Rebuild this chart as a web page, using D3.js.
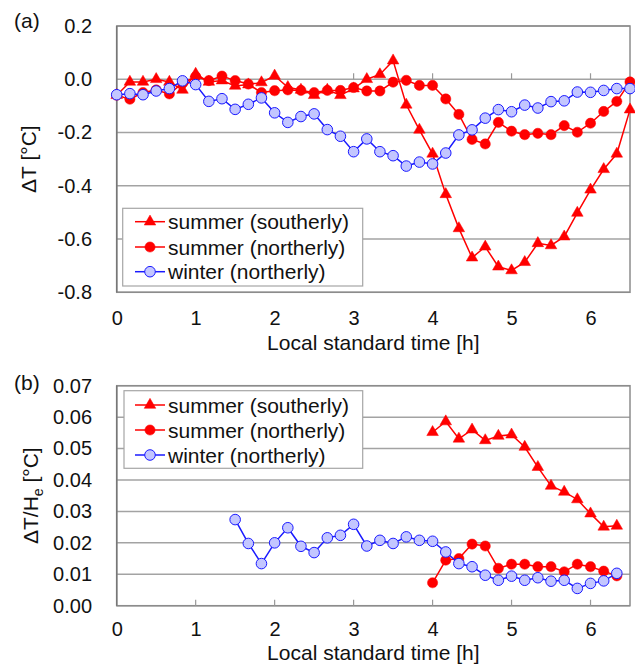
<!DOCTYPE html>
<html><head><meta charset="utf-8">
<script src="https://cdn.jsdelivr.net/npm/d3@7"></script>
<style>
html,body{margin:0;padding:0;background:#fff;}
svg text{font-family:"Liberation Sans",Arial,sans-serif;fill:#111;}
</style></head>
<body>
<svg id="chart" width="635" height="666"></svg>
<script>
// ---- data ----
const times = [0, 0.167, 0.333, 0.5, 0.667, 0.833, 1, 1.167, 1.333, 1.5, 1.667, 1.833, 2, 2.167, 2.333, 2.5, 2.667, 2.833, 3, 3.167,
  3.333, 3.5, 3.667, 3.833, 4, 4.167, 4.333, 4.5, 4.667, 4.833, 5, 5.167, 5.333, 5.5, 5.667, 5.833, 6, 6.167, 6.333, 6.5];

const seriesNames = ["summer (southerly)", "summer (northerly)", "winter (northerly)"];

// Panel (a): ΔT [°C]
const aSoutherly = [-0.06, -0.01, -0.01, 0.0, -0.01, -0.04, 0.02, -0.01, -0.005, -0.025, -0.02, -0.012, 0.013, -0.03, -0.04, -0.06, -0.04, -0.06, -0.035, 0.0,
  0.018, 0.07, -0.096, -0.19, -0.28, -0.432, -0.56, -0.67, -0.629, -0.704, -0.718, -0.687, -0.616, -0.624, -0.591, -0.502, -0.415, -0.338, -0.28, -0.114];
const aNortherly = [-0.06, -0.075, -0.05, -0.04, -0.055, -0.015, 0.01, -0.005, 0.012, -0.005, -0.018, -0.05, -0.043, -0.04, -0.042, -0.05, -0.042, -0.042, -0.031, -0.044,
  -0.044, -0.011, -0.004, -0.023, -0.023, -0.074, -0.132, -0.226, -0.243, -0.162, -0.195, -0.208, -0.203, -0.208, -0.174, -0.199, -0.165, -0.121, -0.083, -0.01];
const aWinter = [-0.058, -0.054, -0.058, -0.044, -0.035, -0.006, -0.02, -0.083, -0.073, -0.113, -0.094, -0.07, -0.126, -0.162, -0.14, -0.13, -0.189, -0.214, -0.272, -0.224,
  -0.272, -0.287, -0.326, -0.311, -0.318, -0.277, -0.209, -0.19, -0.146, -0.114, -0.122, -0.097, -0.108, -0.084, -0.081, -0.048, -0.049, -0.042, -0.035, -0.035];

// Panel (b): ΔT/He [°C]
const bSummerTimes = [4, 4.167, 4.333, 4.5, 4.667, 4.833, 5, 5.167, 5.333, 5.5, 5.667, 5.833, 6, 6.167, 6.333];
const bSoutherly = [0.0552, 0.0586, 0.0531, 0.056, 0.0526, 0.054, 0.0544, 0.0505, 0.0441, 0.0381, 0.0362, 0.0338, 0.0293, 0.0251, 0.0254];
const bNortherly = [0.0073, 0.0145, 0.015, 0.0196, 0.019, 0.0119, 0.0132, 0.0132, 0.0124, 0.0124, 0.0108, 0.0132, 0.0124, 0.011, 0.0095];
const bWinterTimes = [1.5, 1.667, 1.833, 2, 2.167, 2.333, 2.5, 2.667, 2.833, 3, 3.167, 3.333, 3.5, 3.667, 3.833, 4, 4.167, 4.333, 4.5, 4.667,
  4.833, 5, 5.167, 5.333, 5.5, 5.667, 5.833, 6, 6.167, 6.333];
const bWinter = [0.0274, 0.0198, 0.0134, 0.02, 0.0248, 0.0189, 0.0169, 0.0216, 0.0224, 0.0259, 0.019, 0.0208, 0.0198, 0.0219, 0.0208, 0.0205, 0.0171, 0.0134, 0.0124, 0.0097,
  0.0081, 0.0094, 0.0081, 0.0089, 0.0078, 0.0081, 0.0055, 0.0071, 0.0079, 0.0103];

const xTicks = [0, 1, 2, 3, 4, 5, 6];
const aYTicks = [0.2, 0.0, -0.2, -0.4, -0.6, -0.8];
const bYTicks = [0.07, 0.06, 0.05, 0.04, 0.03, 0.02, 0.01, 0.00];

// ---- drawing ----
const svg = d3.select("#chart");
const RED = "#ff0000", BLUE = "#1a1aff", LAV = "#c3c6ff";
const styles = [
  {stroke: RED, fill: RED, sym: d3.symbolTriangle, size: 58},
  {stroke: RED, fill: RED, sym: d3.symbolCircle, size: 82},
  {stroke: BLUE, fill: LAV, sym: d3.symbolCircle, size: 88}
];

const x = d3.scaleLinear().domain([0, 6.5]).range([116.7, 630]);

function panel(cfg) {
  const y = d3.scaleLinear().domain(cfg.yDomain).range([cfg.bottom, cfg.top]);
  const g = svg.append("g");

  // gridlines
  g.selectAll(".grid").data(cfg.yTicks).join("line")
    .attr("x1", x(0)).attr("x2", x(6.5))
    .attr("y1", d => y(d)).attr("y2", d => y(d))
    .attr("stroke", "#a3a3a3").attr("stroke-width", 1.5);

  // frame
  g.append("rect").attr("x", x(0)).attr("y", cfg.top)
    .attr("width", x(6.5) - x(0)).attr("height", cfg.bottom - cfg.top)
    .attr("fill", "none").attr("stroke", "#8c8c8c").attr("stroke-width", 1.5);
  g.append("line").attr("x1", x(0)).attr("x2", x(0)).attr("y1", cfg.top).attr("y2", cfg.bottom)
    .attr("stroke", "#777").attr("stroke-width", 1.5);

  // x tick marks (pointing up from the crossing line)
  const yCross = y(cfg.xCross);
  g.selectAll(".xt").data(xTicks.slice(1)).join("line")
    .attr("x1", d => x(d)).attr("x2", d => x(d))
    .attr("y1", yCross).attr("y2", yCross - 6)
    .attr("stroke", "#999").attr("stroke-width", 1.2);

  // y axis labels
  const yAxis = d3.axisLeft(y).tickValues(cfg.yTicks).tickFormat(d3.format(cfg.yFmt)).tickSize(0).tickPadding(24.7);
  const ya = g.append("g").attr("transform", `translate(${x(0)},0)`).call(yAxis);
  ya.select(".domain").remove();
  ya.selectAll("text").attr("font-size", 20).attr("fill", "#111")
    .attr("font-family", "Liberation Sans, Arial, sans-serif").text(d => d3.format(cfg.yFmt)(d).replace("−", "-"));

  // x axis labels
  const xAxis = d3.axisBottom(x).tickValues(xTicks).tickFormat(d3.format("d")).tickSize(0).tickPadding(cfg.xPad);
  const xa = g.append("g").attr("transform", `translate(0,${cfg.bottom})`).call(xAxis);
  xa.select(".domain").remove();
  xa.selectAll("text").attr("font-size", 20).attr("fill", "#111")
    .attr("font-family", "Liberation Sans, Arial, sans-serif");

  // x title
  g.append("text").attr("x", (x(0) + x(6.5)) / 2).attr("y", cfg.xTitleY)
    .attr("text-anchor", "middle").attr("font-size", 21).text("Local standard time [h]");

  // y title
  const yt = g.append("text").attr("transform", `translate(${cfg.yTitleX},${(cfg.top + cfg.bottom) / 2}) rotate(-90)`)
    .attr("text-anchor", "middle").attr("font-size", 21);
  cfg.yTitle(yt);

  // panel letter
  g.append("text").attr("x", 14).attr("y", cfg.letterY).attr("font-size", 21).text(cfg.letter);

  // series
  const line = d3.line().x(d => x(d[0])).y(d => y(d[1]));
  cfg.series.forEach((s, i) => {
    const st = styles[i];
    const pts = s.t.map((t, k) => [t, s.v[k]]);
    g.append("path").datum(pts).attr("d", line).attr("fill", "none")
      .attr("stroke", st.stroke).attr("stroke-width", 1.5);
    g.selectAll(null).data(pts).join("path")
      .attr("transform", d => `translate(${x(d[0])},${y(d[1])})`)
      .attr("d", d3.symbol(st.sym, st.size))
      .attr("fill", st.fill).attr("stroke", st.stroke).attr("stroke-width", i === 2 ? 1 : 0.5);
  });

  // legend
  const L = cfg.legend;
  const lg = g.append("g");
  lg.append("rect").attr("x", L.x).attr("y", L.y).attr("width", L.w).attr("height", L.h)
    .attr("fill", "#fff").attr("stroke", "#a6a6a6").attr("stroke-width", 1.2);
  seriesNames.forEach((name, i) => {
    const st = styles[i];
    const cy = L.rows[i];
    lg.append("line").attr("x1", 135).attr("x2", 165).attr("y1", cy).attr("y2", cy)
      .attr("stroke", st.stroke).attr("stroke-width", 1.5);
    lg.append("path").attr("transform", `translate(150,${cy})`)
      .attr("d", d3.symbol(st.sym, st.size)).attr("fill", st.fill).attr("stroke", st.stroke)
      .attr("stroke-width", i === 2 ? 1 : 0.5);
    lg.append("text").attr("x", 168).attr("y", cy + 7.5).attr("font-size", 21).text(name);
  });
}

panel({
  top: 26, bottom: 292.3, yDomain: [-0.8, 0.2], yTicks: aYTicks, yFmt: ".1f", xCross: 0,
  xPad: 19, xTitleY: 350, yTitleX: 36, letter: "(a)", letterY: 28,
  yTitle: t => t.text("ΔT [°C]"),
  series: [{t: times, v: aSoutherly}, {t: times, v: aNortherly}, {t: times, v: aWinter}],
  legend: {x: 122.7, y: 208.3, w: 240, h: 77.7, rows: [221.7, 247, 271.7]}
});

panel({
  top: 385.7, bottom: 605.7, yDomain: [0, 0.07], yTicks: bYTicks, yFmt: ".2f", xCross: 0,
  xPad: 16, xTitleY: 660, yTitleX: 38, letter: "(b)", letterY: 390,
  yTitle: t => {
    t.append("tspan").text("ΔT/H");
    t.append("tspan").attr("font-size", 14).attr("dy", 5).text("e");
    t.append("tspan").attr("dy", -5).text(" [°C]");
  },
  series: [{t: bSummerTimes, v: bSoutherly}, {t: bSummerTimes, v: bNortherly}, {t: bWinterTimes, v: bWinter}],
  legend: {x: 124, y: 390.7, w: 238.7, h: 77.6, rows: [405, 430, 455]}
});
</script>
</body></html>
